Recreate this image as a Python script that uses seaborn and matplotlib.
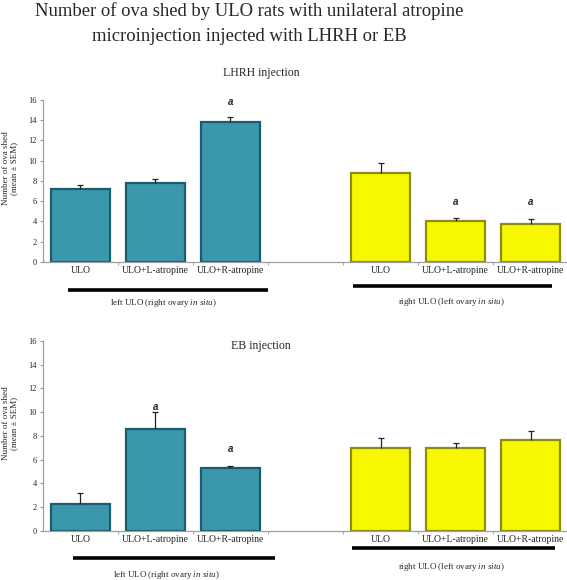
import matplotlib
matplotlib.use("Agg")
import matplotlib.pyplot as plt
import seaborn as sns
import pandas as pd
import numpy as np

sns.set_style("white")
plt.rcParams['font.family'] = ['Liberation Serif', 'DejaVu Serif']
plt.rcParams['mathtext.fontset'] = 'custom'
plt.rcParams['mathtext.rm'] = 'Liberation Serif'
plt.rcParams['mathtext.it'] = 'Liberation Serif:italic'

slots = ["L_ULO", "L_Latr", "L_Ratr", "gap", "R_ULO", "R_Latr", "R_Ratr"]
tick_labels = ["ULO", "ULO+L-atropine", "ULO+R-atropine", "", "ULO", "ULO+L-atropine", "ULO+R-atropine"]
bar_slots = ["L_ULO", "L_Latr", "L_Ratr", "R_ULO", "R_Latr", "R_Ratr"]
side = ["left", "left", "left", "right", "right", "right"]

lhrh_mean = [7.2, 7.8, 13.8, 8.8, 4.0, 3.8]
lhrh_sem = [0.4, 0.4, 0.5, 0.95, 0.3, 0.45]
lhrh_sig = [False, False, True, False, True, True]

eb_mean = [2.3, 8.6, 5.3, 7.0, 7.0, 7.7]
eb_sem = [0.9, 1.4, 0.2, 0.8, 0.4, 0.7]
eb_sig = [False, True, True, False, False, False]

group_labels = ["left ULO (right ovary ", "right ULO (left ovary "]

teal = "#3b98ac"
teal_edge = "#1d5c6c"
yellow = "#f7f700"
yellow_edge = "#8c8c10"

fig = plt.figure(figsize=(5.67, 5.80), dpi=100)

fig.text(0.44, 0.960, "Number of ova shed by ULO rats with unilateral atropine\nmicroinjection injected with LHRH or EB",
         ha="center", va="center", fontsize=13.4, linespacing=1.6)


def panel(rect, means, sems, sigs, sig_offsets, line_specs, label_specs):
    ax = fig.add_axes(rect)
    df = pd.DataFrame({"slot": bar_slots, "value": means, "side": side})
    sns.barplot(data=df, x="slot", y="value", hue="side", order=slots,
                palette={"left": teal, "right": yellow}, dodge=False, saturation=1,
                width=0.79, legend=False, ax=ax, errorbar=None)
    for p in ax.patches:
        fc = p.get_facecolor()
        if fc[2] > 0.4:
            p.set_edgecolor(teal_edge)
        else:
            p.set_edgecolor(yellow_edge)
        p.set_linewidth(1.6)
    xs = [slots.index(s) for s in bar_slots]
    tops = np.array(means) + np.array(sems)
    ax.errorbar(xs, means, yerr=[np.zeros(len(sems)), sems], fmt="none",
                ecolor="#222222", elinewidth=0.9, capsize=0)
    ax.plot(xs, tops, linestyle="none", marker="_", markersize=4.5,
            markeredgewidth=0.9, color="#222222")
    for x, t, sig, off in zip(xs, tops, sigs, sig_offsets):
        if sig:
            ax.annotate("a", (x, t), xytext=(0, off), textcoords="offset points",
                        ha="center", va="center", fontsize=7, fontweight="bold",
                        fontstyle="italic", family=["Liberation Sans", "DejaVu Sans"])
    ax.set_ylim(0, 16)
    ax.set_xlim(-0.5, 6.5)
    ax.set_yticks(range(0, 17, 2))
    ax.set_xticks(range(7))
    ax.set_xticklabels(tick_labels, fontsize=7)
    ax.set_xticks(np.arange(0.5, 7.0, 1.0), minor=True)
    ax.tick_params(axis="x", which="major", length=0, pad=3)
    ax.tick_params(axis="x", which="minor", length=2.5, color="#999999", direction="out", bottom=True)
    ax.tick_params(axis="y", length=2.5, color="#999999", direction="out", left=True,
                   labelsize=6, pad=2)
    ax.set_xlabel("")
    ax.set_ylabel("")
    for sp in ["top", "right"]:
        ax.spines[sp].set_visible(False)
    for sp in ["left", "bottom"]:
        ax.spines[sp].set_color("#a0a0a0")
        ax.spines[sp].set_linewidth(0.9)
    for (x0, x1, y) in line_specs:
        ax.plot([x0, x1], [y, y], color="black", lw=2.6, clip_on=False,
                transform=ax.get_xaxis_transform(), solid_capstyle="butt")
    for (xc, y), lab in zip(label_specs, group_labels):
        ax.text(xc, y, lab + r"$\mathit{in\ situ)}$", ha="center", va="center", fontsize=6.5,
                transform=ax.get_xaxis_transform())
    return ax


ax1 = panel([0.0758, 0.5483, 0.926, 0.2793], lhrh_mean, lhrh_sem, lhrh_sig,
            [0, 0, 11, 0, 12, 12],
            [(-0.17, 2.5, -0.17), (3.63, 6.29, -0.15)],
            [(1.1, -0.255), (4.95, -0.245)])
ax2 = panel([0.0758, 0.0845, 0.926, 0.3276], eb_mean, eb_sem, eb_sig,
            [0, 4, 12, 0, 0, 0],
            [(-0.1, 2.59, -0.14), (3.62, 6.33, -0.09)],
            [(1.15, -0.23), (4.95, -0.19)])

fig.text(0.46, 0.874, "LHRH injection", ha="center", va="center", fontsize=8.5)
fig.text(0.46, 0.403, "EB injection", ha="center", va="center", fontsize=8.5)

fig.text(0.018, 0.71, "Number of ova shed\n(mean ± SEM)", rotation=90, ha="center", va="center",
         fontsize=6.5, linespacing=1.1)
fig.text(0.018, 0.27, "Number of ova shed\n(mean ± SEM)", rotation=90, ha="center", va="center",
         fontsize=6.5, linespacing=1.1)

fig.savefig("out.png", dpi=100)
